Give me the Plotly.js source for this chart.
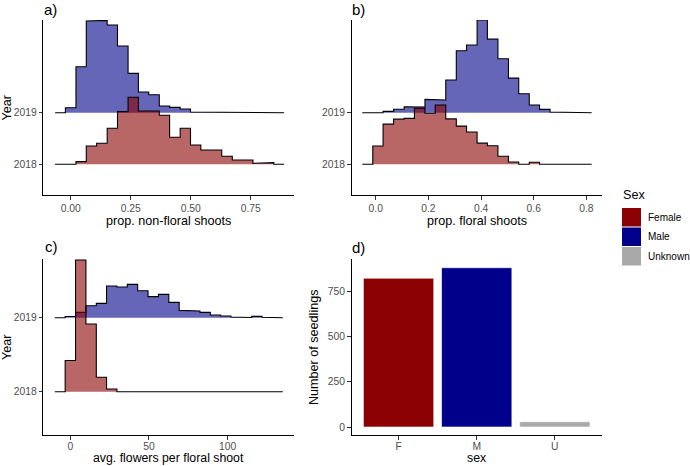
<!DOCTYPE html>
<html>
<head>
<meta charset="utf-8">
<script src="https://cdn.plot.ly/plotly-3.0.1.min.js"></script>
<style>
  html, body { margin: 0; padding: 0; background: #ffffff; }
  #chart { width: 690px; height: 466px; }
</style>
</head>
<body>
<div id="chart"></div>
<script>
// Ridge years (panels a-c)
const years = [2018, 2019];

// a) proportion of non-floral shoots: bin edges and ridge heights per year
const nonFloralEdges = [-0.065, -0.022, 0.022, 0.065, 0.108, 0.152, 0.195, 0.239, 0.282, 0.325, 0.369, 0.412,
                        0.456, 0.499, 0.542, 0.586, 0.629, 0.673, 0.716, 0.759, 0.803, 0.846, 0.889];
const nonFloral2019 = [0, 0.097, 0.891, 1.776, 1.789, 1.699, 1.292, 0.762, 0.400, 0.349, 0.129,
                       0.103, 0.071, 0.013, 0, 0, 0, 0, 0, 0, 0, 0];
const nonFloral2018 = [0, 0, 0.052, 0.355, 0.407, 0.698, 1.021, 1.298, 1.034, 1.034, 0.950,
                       0.525, 0.698, 0.375, 0.278, 0.278, 0.155, 0.084, 0.084, 0.019, 0.032, 0];

// b) proportion of floral shoots
const floralEdges = [-0.051, -0.011, 0.028, 0.068, 0.108, 0.147, 0.187, 0.226, 0.266, 0.306, 0.345, 0.385,
                     0.424, 0.464, 0.504, 0.543, 0.583, 0.622, 0.662, 0.702, 0.741, 0.781, 0.820];
const floral2019 = [0, 0, 0.026, 0.068, 0.116, 0.107, 0.258, 0.245, 0.633, 1.200, 1.311,
                    1.796, 1.425, 1.045, 0.670, 0.368, 0.149, 0.065, 0.014, 0, 0.013, 0];
const floral2018 = [0, 0.355, 0.778, 0.875, 0.890, 1.085, 0.990, 1.150, 0.880, 0.740, 0.625,
                    0.410, 0.360, 0.155, 0.045, 0, 0.039, 0, 0, 0, 0, 0];

// c) average flowers per floral shoot
const flowersEdges = [-9.9, -3.3, 3.3, 9.9, 16.5, 23.0, 29.6, 36.2, 42.8, 49.4, 56.0, 62.6,
                      69.2, 75.8, 82.4, 89.0, 95.5, 102.1, 108.7, 115.3, 121.9, 128.5, 135.1];
const flowers2019 = [0, 0.016, 0.072, 0.162, 0.194, 0.428, 0.414, 0.450, 0.365, 0.284, 0.315,
                     0.207, 0.099, 0.090, 0.072, 0.036, 0.022, 0.009, 0.002, 0.018, 0.005, 0];
const flowers2018 = [0, 0.421, 1.779, 0.914, 0.196, 0.036, 0, 0, 0, 0, 0,
                     0, 0, 0, 0, 0, 0, 0, 0, 0, 0, 0];

// d) number of seedlings by sex
const sexCodes = ['F', 'M', 'U'];
const sexNames = ['Female', 'Male', 'Unknown'];
const seedlingCounts = [821, 879, 29];

const sexColors = ['#8B0000', '#00008B', '#A9A9A9'];
const ridgeFill = { 2019: 'rgba(0,0,139,0.6)', 2018: 'rgba(139,0,0,0.6)' };

const W = 690, H = 466;
const px = x => x / W;
const py = y => 1 - y / H;
const FONT = 'Liberation Sans, Arial, sans-serif';
const TICK_COLOR = '#4D4D4D';

// Step outline of a binned ridge sitting on its year's baseline
function stepPath(edges, heights, base) {
  const xs = [edges[0]], ys = [base];
  for (let i = 0; i < heights.length; i++) {
    xs.push(edges[i], edges[i + 1]);
    ys.push(base + heights[i], base + heights[i]);
  }
  xs.push(edges[edges.length - 1]);
  ys.push(base);
  return { xs, ys };
}

function ridgeTraces(edges, heights, year, xa, ya) {
  const p = stepPath(edges, heights, year);
  return [
    { type: 'scatter', mode: 'lines', x: p.xs, y: p.ys, xaxis: xa, yaxis: ya,
      fill: 'toself', fillcolor: ridgeFill[year], line: { width: 0, color: 'rgba(0,0,0,0)' },
      hoverinfo: 'skip', showlegend: false },
    { type: 'scatter', mode: 'lines', x: p.xs, y: p.ys, xaxis: xa, yaxis: ya,
      line: { color: '#000000', width: 1.1 }, hoverinfo: 'skip', showlegend: false }
  ];
}

const traces = [].concat(
  ridgeTraces(nonFloralEdges, nonFloral2019, years[1], 'x', 'y'),
  ridgeTraces(nonFloralEdges, nonFloral2018, years[0], 'x', 'y'),
  ridgeTraces(floralEdges, floral2019, years[1], 'x2', 'y2'),
  ridgeTraces(floralEdges, floral2018, years[0], 'x2', 'y2'),
  ridgeTraces(flowersEdges, flowers2019, years[1], 'x3', 'y3'),
  ridgeTraces(flowersEdges, flowers2018, years[0], 'x3', 'y3'),
  [{
    type: 'bar', x: sexCodes, y: seedlingCounts, xaxis: 'x4', yaxis: 'y4', width: 0.9,
    marker: { color: sexColors, line: { color: '#FFFFFF', width: 0.6 } },
    hoverinfo: 'skip', showlegend: false
  }]
);

const baseAxis = {
  showline: true, linecolor: '#000000', linewidth: 1.1, mirror: false,
  showgrid: false, zeroline: false,
  ticks: 'outside', ticklen: 3.5, tickwidth: 1, tickcolor: '#333333',
  tickfont: { family: FONT, size: 10.3, color: TICK_COLOR },
  fixedrange: true
};
const yearAxis = (range, domain) => Object.assign({}, baseAxis, {
  range, domain, tickmode: 'array', tickvals: years, ticktext: years.map(String)
});

const leftX = [px(43.3), px(294)];
const rightX = [px(351.7), px(601.7)];
const topY = [py(195), py(20)];
const botY = [py(435), py(259)];

function label(text, x, y, opts) {
  return Object.assign({
    text, x: px(x), y: py(y), xref: 'paper', yref: 'paper', showarrow: false, borderpad: 0,
    xanchor: 'center', yanchor: 'middle', font: { family: FONT, size: 12.6, color: '#000000' }
  }, opts || {});
}

const tagFont = { family: FONT, size: 15, color: '#000' };
const lowTitleFont = { family: FONT, size: 12.3, color: '#000' };
const annotations = [
  label('a)', 43, 10, { xanchor: 'left', font: tagFont }),
  label('b)', 351, 10, { xanchor: 'left', font: tagFont }),
  label('c)', 43.5, 246.5, { xanchor: 'left', font: tagFont }),
  label('d)', 350.5, 247, { xanchor: 'left', font: tagFont }),
  label('Year', 7, 107.5, { textangle: -90 }),
  label('Year', 7, 347, { textangle: -90 }),
  label('Number of seedlings', 314, 347, { textangle: -90 }),
  label('prop. non-floral shoots', 168.7, 221),
  label('prop. floral shoots', 476.7, 221),
  label('avg. flowers per floral shoot', 168.7, 466, { yanchor: 'bottom', font: lowTitleFont }),
  label('sex', 476.7, 466, { yanchor: 'bottom', font: lowTitleFont }),
  label('Sex', 621.5, 195, { xanchor: 'left' })
];

const shapes = [];
const keyTops = [208, 227.5, 247];
sexNames.forEach((name, i) => {
  shapes.push({
    type: 'rect', xref: 'paper', yref: 'paper',
    x0: px(622), x1: px(641), y0: py(keyTops[i] + 18.5), y1: py(keyTops[i]),
    fillcolor: sexColors[i], line: { width: 0 }
  });
  annotations.push(label(name, 647, keyTops[i] + 9.3,
    { xanchor: 'left', font: { family: FONT, size: 10, color: '#000' } }));
});

const layout = {
  width: W, height: H,
  margin: { l: 0, r: 0, t: 0, b: 0 },
  paper_bgcolor: '#ffffff', plot_bgcolor: '#ffffff',
  showlegend: false,
  xaxis: Object.assign({}, baseAxis, { domain: leftX, anchor: 'y', range: [-0.114, 0.930],
    tickvals: [0, 0.25, 0.5, 0.75], ticktext: ['0.00', '0.25', '0.50', '0.75'] }),
  yaxis: Object.assign(yearAxis([2017.405, 2020.796], topY), { anchor: 'x' }),
  xaxis2: Object.assign({}, baseAxis, { domain: rightX, anchor: 'y2', range: [-0.0911, 0.858],
    tickvals: [0, 0.2, 0.4, 0.6, 0.8], ticktext: ['0.0', '0.2', '0.4', '0.6', '0.8'] }),
  yaxis2: Object.assign(yearAxis([2017.405, 2020.796], topY), { anchor: 'x2' }),
  xaxis3: Object.assign({}, baseAxis, { domain: leftX, anchor: 'y3', range: [-17.2, 142.2],
    tickvals: [0, 50, 100], ticklabelstandoff: -2 }),
  yaxis3: Object.assign(yearAxis([2017.415, 2019.793], botY), { anchor: 'x3' }),
  xaxis4: Object.assign({}, baseAxis, { domain: rightX, anchor: 'y4', type: 'category',
    categoryorder: 'array', categoryarray: sexCodes, range: [-0.6, 2.6], ticklabelstandoff: -2 }),
  yaxis4: Object.assign({}, baseAxis, { domain: botY, anchor: 'x4', range: [-44.15, 927.15],
    tickvals: [0, 250, 500, 750] }),
  annotations, shapes
};

Plotly.newPlot('chart', traces, layout, { staticPlot: true, displayModeBar: false });
</script>
</body>
</html>
